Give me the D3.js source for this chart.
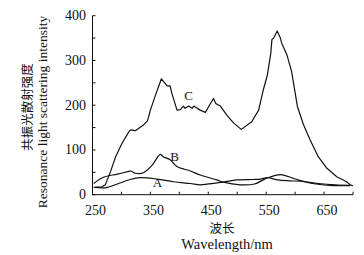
<!DOCTYPE html>
<html>
<head>
<meta charset="utf-8">
<script src="https://cdn.jsdelivr.net/npm/d3@7"></script>
<style>
html,body{margin:0;padding:0;background:#fff;}
svg{display:block;}
</style>
</head>
<body>
<svg id="chart" width="364" height="255"></svg>
<script>
// ---- data ----
const xTicksMajor = [250, 350, 450, 550, 650];
const yTicksMajor = [0, 100, 200, 300, 400];

const wlA = [252, 274, 293, 315, 333, 361, 390, 419, 436, 450, 476, 499, 528, 540, 553, 570, 590, 610, 640, 670, 695];
const valA = [16.5, 16, 24, 34, 38, 35, 29, 25, 22, 24, 28, 33, 34, 35, 38, 33, 31, 30, 25, 22, 21];

const wlB = [252, 269, 293, 313, 316, 324, 338, 353, 367, 372, 384, 396, 419, 436, 465, 476, 505, 530, 551, 575, 600, 630, 660, 695];
const valB = [25, 39, 46, 52, 53, 48, 49, 66, 90, 85, 78, 63, 53, 44, 33, 28, 22, 24, 37, 45, 35, 25, 21, 20];

const wlC = [255, 266, 272, 281, 290, 301, 313, 316, 324, 338, 345, 350, 359, 369, 379, 384, 387, 396, 402, 407, 410, 416, 422, 425, 436, 445, 452, 459, 463, 471, 482, 494, 507, 525, 537, 545, 552, 558, 560, 563, 569, 574, 577, 586, 594, 604, 614, 626, 640, 655, 672, 689, 695, 700];
const valC = [17, 17, 22, 51, 85, 115, 141, 145, 143, 156, 165, 189, 223, 259, 243, 243, 227, 189, 190, 198, 193, 198, 193, 198, 189, 184, 200, 215, 204, 198, 178, 160, 146, 163, 189, 234, 267, 316, 347, 350, 366, 352, 338, 312, 275, 197, 158, 122, 85, 59, 40, 29, 22, 20];

const seriesLabels = ["A", "B", "C"];
const labelPos = [[362, 17], [392, 76], [416, 212]]; // [wavelength, intensity] anchor for series letters

// ---- drawing ----
const SERIF = "'Liberation Serif', 'Times New Roman', Times, 'DejaVu Serif', serif";
const CJK = "'Noto Sans CJK SC', 'Noto Sans CJK JP', sans-serif";

const svg = d3.select("#chart");
svg.append("rect").attr("width", 364).attr("height", 255).attr("fill", "#fff");

const x = d3.scaleLinear().domain([250, 700]).range([92.5, 353]);
const y = d3.scaleLinear().domain([0, 400]).range([194.7, 15.7]);

const g = svg.append("g");

// axes lines
g.append("line").attr("x1", x(250)).attr("x2", x(250)).attr("y1", y(400)).attr("y2", y(0))
  .attr("stroke", "#111").attr("stroke-width", 1);
g.append("line").attr("x1", x(250)).attr("x2", x(700)).attr("y1", y(0)).attr("y2", y(0))
  .attr("stroke", "#111").attr("stroke-width", 1);

// y ticks (inward)
d3.range(0, 401, 50).forEach(v => {
  g.append("line").attr("x1", x(250)).attr("x2", x(250) + 3)
    .attr("y1", y(v)).attr("y2", y(v)).attr("stroke", "#111").attr("stroke-width", 1);
});
yTicksMajor.forEach(v => {
  g.append("text").attr("x", 86).attr("y", y(v) + 4.5).attr("text-anchor", "end")
    .attr("font-family", SERIF).attr("fill", "#111")
    .attr("font-size", 14).text(v);
});
// x ticks (inward)
d3.range(250, 701, 50).forEach(v => {
  g.append("line").attr("x1", x(v)).attr("x2", x(v))
    .attr("y1", y(0)).attr("y2", y(0) - 3).attr("stroke", "#111").attr("stroke-width", 1);
});
xTicksMajor.forEach(v => {
  g.append("text").attr("x", x(v) + 3).attr("y", 215).attr("text-anchor", "middle")
    .attr("font-family", SERIF).attr("fill", "#111")
    .attr("font-size", 14).text(v);
});

// axis titles
g.append("text").attr("x", 222).attr("y", 233).attr("text-anchor", "middle")
  .attr("font-family", CJK).attr("fill", "#111")
  .attr("font-size", 12.5).text("波长");
g.append("text").attr("x", 227).attr("y", 249).attr("text-anchor", "middle")
  .attr("font-family", SERIF).attr("fill", "#111")
  .attr("font-size", 14.5).text("Wavelength/nm");
g.append("text").attr("transform", "translate(32,107) rotate(-90)")
  .attr("font-family", CJK).attr("fill", "#111")
  .attr("text-anchor", "middle").attr("font-size", 12.5).text("共振光散射强度");
g.append("text").attr("transform", "translate(47,112) rotate(-90)")
  .attr("font-family", SERIF).attr("fill", "#111")
  .attr("text-anchor", "middle").attr("font-size", 13.5).text("Resonance light scattering intensity");

// lines
const smooth = d3.line().x(d => x(d[0])).y(d => y(d[1])).curve(d3.curveCatmullRom.alpha(0.5));
const straight = d3.line().x(d => x(d[0])).y(d => y(d[1]));
const series = [
  {w: wlA, v: valA, gen: smooth},
  {w: wlB, v: valB, gen: smooth},
  {w: wlC, v: valC, gen: straight}
];
series.forEach(s => {
  const pts = s.w.map((w, i) => [w, s.v[i]]);
  g.append("path").attr("d", s.gen(pts)).attr("fill", "none")
    .attr("stroke", "#111").attr("stroke-width", 1.2).attr("stroke-linejoin", "round");
});

// series letters
seriesLabels.forEach((t, i) => {
  g.append("text").attr("x", x(labelPos[i][0])).attr("y", y(labelPos[i][1]))
    .attr("font-family", SERIF).attr("fill", "#111")
    .attr("text-anchor", "middle").attr("font-size", 13).text(t);
});
</script>
</body>
</html>
